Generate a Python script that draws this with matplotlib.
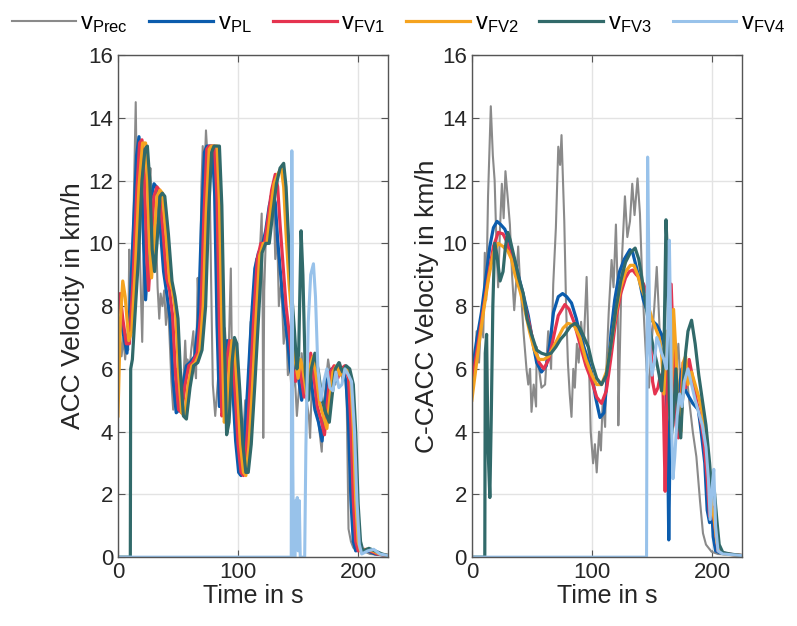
import matplotlib
matplotlib.use("Agg")
import matplotlib.pyplot as plt

plt.rcParams['font.family'] = ['Liberation Sans', 'DejaVu Sans']

# ---- ACC run: (time in s, velocity in km/h) ----
acc_prec = [(0, 6.9), (1.5, 7.3), (3, 6.4), (4.5, 7.0), (6, 6.3), (7.5, 7.1), (8.5, 6.6), (9.4, 9.8),
            (10.3, 7.5), (11.5, 9.0), (13, 11.0), (14.8, 14.5), (16, 11.0), (17, 12.5), (18.5, 9.3),
            (20.2, 6.86), (21.5, 9.5), (23, 10.4), (24.5, 9.4), (26, 11.8), (27, 12.4), (28.5, 10.8),
            (30, 9.8), (31.5, 10.6), (33, 8.6), (34.4, 7.6), (35.5, 8.4), (37, 8.0), (38.5, 8.5),
            (40, 7.4), (41.5, 8.2), (43, 7.0), (44.5, 5.6), (46, 4.7), (47, 5.6), (48, 4.9), (49, 6.0),
            (50.5, 5.2), (52, 5.6), (53.5, 5.0), (55, 6.0), (56, 6.9), (57, 6.0), (58, 6.3), (59.5, 5.9),
            (61, 6.6), (62.8, 7.2), (64, 6.0), (65, 5.7), (66.4, 8.9), (67.5, 7.6), (68.5, 9.0),
            (69.5, 11.8), (70.6, 13.1), (72, 12.2), (73.3, 13.6), (74.5, 12.8), (76, 13.0), (77.5, 9.0),
            (79, 5.5), (81, 4.5), (83, 5.5), (85, 6.5), (87, 6.0), (89, 7.3), (91, 6.2), (92.5, 7.0),
            (94, 9.2), (95, 6.0), (96.5, 5.0), (98, 3.8), (99, 4.3), (100, 3.0), (101.5, 3.3), (103, 2.9),
            (104.5, 4.0), (106, 5.0), (107.5, 4.5), (109, 6.0), (110.5, 7.5), (112, 7.0), (113.5, 8.6),
            (115, 9.5), (116.5, 9.2), (118, 9.6), (119.7, 10.95), (120.5, 8.0), (121, 3.8), (121.8, 8.5),
            (123, 10.0), (125, 10.6), (126.7, 11.5), (128, 10.8), (129.5, 11.7), (131, 9.5), (132.5, 10.5),
            (134, 8.0), (136, 8.8), (138, 6.8), (140, 7.5), (141.5, 5.8), (143, 6.3), (145, 5.0), (147, 6.0),
            (149, 4.5), (151, 5.5), (153, 6.5), (155, 5.5), (157, 5.0), (159, 4.5), (160, 3.8), (161.5, 5.5),
            (163, 6.0), (165, 5.0), (167, 4.3), (169.7, 3.36), (171, 4.5), (173, 5.5), (175, 6.3), (177, 5.8),
            (179, 6.0), (181, 5.5), (183, 6.1), (185, 6.2), (187, 5.6), (189, 5.9), (190.5, 5.0), (192, 0.9),
            (194, 0.5), (196, 0.3), (199, 0.2), (204, 0.2), (210, 0.1), (225, 0.05)]

acc_pl = [(0, 7.2), (2, 7.6), (5, 7.0), (7.5, 6.5), (10, 8.0), (13, 10.6), (15.5, 12.8), (17.5, 13.4),
          (19.5, 12.6), (21.5, 9.8), (23, 8.2), (25, 9.4), (27.5, 11.4), (30, 11.9), (32, 11.8), (35, 10.6),
          (38, 9.1), (41, 8.3), (43.5, 7.6), (46, 5.6), (48.5, 4.6), (51, 4.7), (54, 5.5), (57, 6.1),
          (60, 6.2), (64, 6.4), (67, 7.6), (69.5, 10.6), (72, 12.9), (74, 13.1), (78.5, 13.1), (80.5, 11.6),
          (82.5, 7.4), (84.5, 4.8), (86.5, 5.0), (89, 6.4), (91, 6.9), (93, 6.8), (95.5, 5.4), (98, 3.7),
          (100.5, 2.7), (102.5, 2.6), (105, 3.5), (108, 5.4), (111, 7.5), (114, 9.2), (117, 9.7), (120, 9.9),
          (123, 10.4), (126, 11.2), (129, 11.6), (131, 11.3), (133, 10.1), (135.5, 9.0), (138, 7.9),
          (141, 7.0), (143.5, 6.0), (146, 5.6), (148, 6.3), (150, 5.8), (153, 5.0), (156, 5.9), (158.5, 6.4),
          (161, 5.6), (164, 4.7), (167, 4.3), (170, 3.7), (172.5, 4.9), (175, 5.8), (178, 6.0), (181, 5.6),
          (184, 6.0), (187, 6.0), (190, 5.6), (192, 4.2), (194, 1.8), (196, 0.5), (198, 0.2), (203, 0.25),
          (208, 0.2), (214, 0.1), (225, 0.05)]

acc_fv1 = [(0, 7.8), (1.8, 8.4), (4, 7.6), (7, 6.8), (9.5, 6.8), (12.5, 8.8), (15.5, 11.5), (18, 13.2),
           (20, 13.3), (22, 12.2), (24, 9.5), (25.5, 8.5), (27.5, 9.8), (30, 11.5), (32.5, 11.8), (34.5, 11.7),
           (37.5, 10.4), (40.5, 8.9), (43, 8.5), (45.5, 7.7), (48, 5.8), (50.5, 4.7), (53, 4.6), (56, 5.5),
           (59, 6.1), (62, 6.2), (66, 6.5), (69, 7.8), (71.5, 10.8), (74, 13.0), (76, 13.1), (80.5, 13.1),
           (82.5, 11.4), (84.5, 7.4), (86.5, 4.5), (88.5, 4.8), (91, 6.4), (93, 6.9), (95, 6.8), (97.5, 5.3),
           (100, 3.6), (102.5, 2.7), (104.5, 2.6), (107, 3.5), (110, 5.4), (113, 7.6), (116, 9.5), (119, 10.0),
           (122, 10.0), (125, 10.8), (128, 11.7), (131, 12.2), (133, 11.8), (135, 10.6), (137.5, 9.3),
           (140, 8.0), (143, 7.0), (145.5, 6.0), (148, 5.6), (150, 6.3), (152, 5.9), (155, 5.1), (158, 6.1),
           (160.5, 6.5), (163, 5.8), (166, 4.8), (169, 4.4), (172, 3.9), (174.5, 5.0), (177, 5.9), (180, 6.1),
           (183, 5.7), (186, 6.0), (189, 6.1), (192, 5.7), (194, 4.2), (196, 1.8), (198, 0.5), (200, 0.2),
           (205, 0.25), (210, 0.2), (216, 0.1), (225, 0.05)]

acc_fv2 = [(0, 4.5), (2, 7.5), (4, 8.8), (6, 8.3), (9, 6.9), (11.5, 7.2), (14.5, 9.2), (17.5, 11.8),
           (20.5, 13.2), (23, 13.2), (24.5, 12.0), (26.5, 9.7), (28, 8.9), (30, 10.0), (32.5, 11.5), (35, 11.7),
           (37, 11.6), (40, 10.3), (43, 8.8), (45.5, 8.5), (48, 7.8), (50.5, 5.9), (53, 4.6), (55.5, 4.5),
           (58.5, 5.5), (61.5, 6.1), (64.5, 6.2), (68, 6.5), (71, 8.0), (73.5, 11.0), (76, 13.0), (78, 13.1),
           (82.5, 13.1), (84.5, 11.3), (86.5, 7.4), (88.5, 4.3), (90.5, 4.5), (93, 6.2), (95, 6.9), (97, 6.8),
           (99.5, 5.3), (102, 3.6), (104.5, 2.7), (106.5, 2.6), (109, 3.5), (112, 5.4), (115, 7.6), (118, 9.6),
           (121, 10.0), (124, 10.0), (127, 11.0), (130, 11.9), (133, 12.2), (136, 12.4), (138, 11.8),
           (140, 10.3), (142.5, 8.7), (145, 7.6), (147.5, 6.3), (150, 5.7), (152, 6.3), (154, 6.0), (157, 5.2),
           (160, 6.1), (162.5, 6.4), (165, 5.8), (168, 4.9), (171, 4.5), (174, 4.1), (176.5, 5.1), (179, 5.9),
           (182, 6.1), (185, 5.8), (188, 6.0), (191, 6.0), (194, 5.6), (196, 4.1), (198, 1.8), (200, 0.5),
           (202, 0.2), (207, 0.25), (212, 0.2), (218, 0.1), (225, 0.05)]

acc_fv3 = [(0, 0), (10.3, 0), (10.6, 6.0), (12, 6.3), (14, 7.6), (17, 9.5), (20, 12.0), (22.5, 13.0),
           (24.5, 13.1), (26.5, 12.0), (28.5, 9.8), (30.5, 9.1), (32.5, 10.0), (35, 11.5), (37, 11.6),
           (39, 11.5), (42, 10.3), (45, 8.8), (47.5, 8.3), (50, 7.6), (52, 5.9), (54.5, 4.5), (57, 4.4),
           (60, 5.4), (63, 6.1), (66.5, 6.2), (70, 6.6), (73, 8.0), (75.5, 11.0), (78, 12.9), (80, 13.1),
           (84.5, 13.1), (86.5, 11.2), (88.5, 7.2), (90.5, 3.9), (92.5, 4.3), (95, 6.2), (97, 7.0), (99, 6.8),
           (101.5, 5.3), (104, 3.6), (106.5, 2.7), (108.5, 2.7), (111, 3.6), (114, 5.5), (117, 7.6), (120, 9.7),
           (123, 10.0), (126, 10.0), (129, 11.0), (132, 11.9), (135, 12.4), (138, 12.55), (140, 11.8),
           (142, 10.2), (144.5, 8.5), (147, 7.2), (149, 6.0), (150.5, 6.5), (152.5, 10.4), (154, 9.0),
           (156, 5.9), (158.5, 5.0), (161, 6.0), (164, 6.5), (167, 5.9), (170, 5.0), (173, 4.6), (176, 4.3),
           (178.5, 5.2), (181, 6.0), (184, 6.2), (187, 5.9), (190, 6.1), (193, 6.0), (196, 5.5), (198, 4.0),
           (200, 1.7), (202, 0.5), (204, 0.2), (209, 0.28), (214, 0.2), (220, 0.1), (225, 0.05)]

acc_fv4 = [(0, 0), (144.3, 0), (144.8, 12.95), (145.6, 3.0), (146.2, 0), (147.5, 0), (148, 1.8),
           (148.6, 0.3), (149.3, 1.9), (150, 0.2), (151, 1.8), (151.8, 0), (155.5, 0), (156.5, 3.5),
           (158.5, 7.5), (160.5, 9.0), (162.8, 9.35), (164.5, 8.3), (166.5, 6.0), (169, 5.0), (171.5, 5.6),
           (174, 6.0), (176.5, 5.4), (179, 5.3), (181.5, 5.9), (184, 5.4), (186.5, 5.5), (189, 6.0),
           (192, 5.8), (194.5, 5.6), (197, 4.0), (199, 1.8), (201, 0.4), (203, 0.1), (208, 0.2), (213, 0.25),
           (218, 0.1), (225, 0.05)]

# ---- C-CACC run ----
cacc_prec = [(0, 6.8), (2, 5.8), (4, 7.2), (6, 6.2), (8, 7.8), (9.5, 7.0), (10.8, 9.7), (12, 8.2),
             (13.5, 11.5), (15.8, 14.37), (17.5, 12.8), (19, 12.0), (20.5, 10.0), (21.9, 8.6), (23.5, 10.5),
             (25, 11.9), (26.5, 10.8), (28, 12.3), (30, 11.4), (31.7, 10.6), (33.5, 9.0), (35.3, 7.87),
             (37, 8.8), (38.6, 9.9), (40, 8.9), (41, 8.4), (43, 7.2), (45.6, 5.96), (47, 5.5), (48.5, 6.0),
             (49.7, 4.63), (51.5, 5.5), (53.5, 4.8), (54, 6.7), (56, 6.0), (58, 5.4), (61, 5.5), (63.6, 7.2),
             (66, 6.0), (67.8, 8.7), (70, 10.5), (72, 13.08), (73.5, 12.5), (74.7, 13.45), (77, 10.7),
             (78.5, 8.0), (80, 6.2), (81.5, 5.2), (83, 4.47), (84.5, 6.0), (85.8, 5.4), (87.5, 6.8), (89, 6.2),
             (91, 7.5), (93, 6.6), (95.6, 8.93), (97.7, 5.96), (99, 4.0), (101, 2.99), (102.5, 3.6), (104, 2.7),
             (106, 4.0), (107.5, 3.4), (109, 5.0), (111, 4.15), (112, 5.96), (114, 7.8), (116.4, 9.47),
             (118, 8.6), (120, 10.6), (121.5, 8.5), (122, 4.2), (123, 6.07), (125, 9.5), (127.5, 11.5),
             (129.5, 10.2), (131.7, 10.7), (133.6, 11.9), (135.5, 10.9), (138, 12.07), (140, 10.95),
             (141.4, 9.36), (143.5, 7.5), (145.6, 5.96), (147.5, 5.4), (149.7, 6.8), (152, 8.0), (154, 9.25),
             (156.7, 7.0), (158.5, 6.5), (160, 6.0), (163, 4.5), (166, 7.0), (169, 5.5), (172, 6.8), (175, 4.5),
             (178, 6.2), (181, 5.0), (184, 4.0), (187, 3.2), (190, 1.8), (192.5, 0.76), (195, 0.4),
             (199.7, 0.17), (205, 0.1), (225, 0.05)]

cacc_pl = [(0, 5.9), (1, 6.1), (4, 6.9), (8, 7.8), (12, 9.0), (15, 9.9), (18, 10.5), (21, 10.7), (24, 10.6),
           (27.5, 10.45), (30, 10.2), (33, 9.8), (36, 9.4), (38.6, 9.0), (42, 8.5), (47, 7.7), (51, 6.8),
           (54, 6.2), (58, 5.9), (62, 6.1), (65, 6.8), (68, 7.8), (72, 8.3), (75.6, 8.4), (79, 8.3), (83, 8.1),
           (87, 7.6), (90, 7.1), (95, 6.5), (99.7, 5.9), (103, 5.1), (106.7, 4.45), (110, 4.6), (113.6, 6.0),
           (116, 7.2), (119, 8.2), (123, 9.1), (127, 9.5), (131.7, 9.8), (134, 9.7), (138.6, 9.0), (142.8, 8.2),
           (148.3, 7.6), (154, 7.4), (158, 7.1), (161, 6.6), (163, 4.0), (164, 0.55), (165, 3.5), (166.5, 6.4),
           (169, 5.5), (172, 5.2), (175, 6.0), (178, 5.3), (181, 5.1), (184, 4.9), (188.6, 4.7), (191, 4.0),
           (194, 3.0), (196, 1.5), (198, 1.1), (199.5, 1.8), (201, 0.65), (203, 0.2), (206, 0.15), (212, 0.1),
           (225, 0.05)]

cacc_fv1 = [(0, 5.4), (2, 6.0), (6, 7.0), (10, 8.0), (14, 9.0), (18, 9.9), (22, 10.35), (26, 10.3),
            (28.5, 10.1), (31, 9.8), (35, 9.3), (39, 8.8), (43, 8.2), (48, 7.4), (52, 6.7), (56, 6.2), (60, 6.0),
            (64, 6.3), (68, 7.0), (72, 7.7), (77.5, 8.05), (81, 7.9), (85, 7.5), (90, 6.8), (95, 6.1), (100, 5.6),
            (104, 5.1), (108, 4.9), (112, 5.3), (116, 6.4), (120, 7.6), (124, 8.4), (128, 8.9), (131, 9.1),
            (134, 9.15), (137, 9.0), (140, 8.9), (143, 8.7), (146, 8.4), (148.5, 7.2), (150.5, 5.6),
            (152.5, 5.2), (155, 5.4), (157, 5.8), (159, 5.7), (160, 4.0), (161, 2.1), (162.5, 5.0), (164, 7.5),
            (166, 8.7), (168, 6.5), (170, 4.2), (172, 3.8), (174, 5.0), (176, 6.2), (178, 5.4), (181, 6.3),
            (184, 5.7), (187, 5.0), (190, 4.5), (193, 3.8), (196, 2.5), (198, 1.3), (200.5, 1.6), (203, 0.8),
            (205, 0.2), (208, 0.15), (213, 0.1), (225, 0.05)]

cacc_fv2 = [(0, 5.0), (2, 5.6), (6, 6.8), (10, 7.9), (14, 8.9), (18, 9.7), (22, 10.0), (26, 9.9), (30, 9.75),
            (33, 9.5), (36, 9.0), (40, 8.5), (44, 7.9), (48, 7.2), (52, 6.6), (56, 6.3), (60, 6.3), (64, 6.4),
            (68, 6.7), (72, 7.0), (76, 7.3), (80, 7.45), (85, 7.4), (90, 7.0), (95, 6.3), (100, 5.8), (104, 5.5),
            (108, 5.5), (112, 5.9), (116, 6.8), (120, 7.8), (124, 8.6), (128, 9.1), (132, 9.3), (135, 9.3),
            (138, 9.0), (141, 8.6), (144, 8.3), (147, 8.0), (150, 7.6), (153, 7.3), (156, 7.0), (158, 6.5),
            (160, 5.2), (162, 7.2), (164, 6.4), (166, 5.0), (168, 7.9), (170, 6.5), (172, 4.5), (174, 4.0),
            (176, 6.2), (178, 6.4), (180, 5.5), (183, 5.9), (186, 5.5), (189, 5.1), (192, 4.6), (195, 3.8),
            (198, 2.5), (200, 1.6), (202, 1.2), (204, 0.5), (206, 0.2), (210, 0.1), (225, 0.05)]

cacc_fv3 = [(0, 0), (10.8, 0), (11.2, 6.5), (12.3, 7.1), (13.5, 3.5), (15, 1.9), (16.2, 4.5), (17.5, 8.0),
            (19, 10.0), (21, 9.6), (23.5, 8.8), (26, 9.1), (28, 9.9), (30, 10.35), (32, 10.1), (35.8, 9.47),
            (39, 8.9), (42.8, 8.4), (46, 7.6), (49.7, 7.1), (54, 6.6), (58, 6.5), (62, 6.45), (66, 6.5),
            (70, 6.7), (74, 6.95), (77.5, 7.1), (82, 7.35), (86, 7.45), (90, 7.3), (93.5, 7.0), (97, 6.7),
            (100, 6.2), (104, 5.7), (108, 5.5), (112, 5.8), (116, 6.8), (120, 7.9), (124, 8.8), (128, 9.4),
            (132, 9.7), (136, 9.85), (139, 9.5), (142, 8.8), (145, 8.0), (148, 7.3), (151, 6.7), (154, 6.2),
            (156, 5.8), (158, 5.3), (160, 6.5), (161.7, 10.75), (163, 9.5), (164.5, 5.0), (166, 3.8),
            (168, 4.5), (170, 6.0), (172, 4.5), (174, 3.8), (176, 5.5), (178, 6.5), (180, 7.2), (183, 7.55),
            (186, 6.8), (189, 5.8), (192, 5.0), (195, 4.2), (198, 3.0), (200, 2.0), (202, 2.1), (204, 1.2),
            (206, 0.4), (209, 0.15), (215, 0.1), (225, 0.05)]

cacc_fv4 = [(0, 0), (145.5, 0), (146.4, 12.75), (147.5, 9.0), (148.5, 6.5), (150, 5.8), (152, 6.2),
            (154, 7.0), (156, 6.8), (158, 6.5), (160, 6.3), (162, 6.0), (163.5, 7.5), (164.5, 10.1),
            (165.5, 7.5), (166.5, 4.0), (167.5, 2.5), (169, 3.2), (171, 4.5), (173, 5.2), (175, 4.8),
            (177, 5.6), (180, 6.0), (183, 5.5), (186, 5.0), (189, 4.6), (192, 4.2), (195, 3.5), (197, 2.5),
            (198.5, 1.2), (200, 2.2), (201.5, 2.8), (203, 1.0), (205, 0.2), (209, 0.1), (225, 0.05)]

labels = [r'$\mathregular{v_{Prec}}$', r'$\mathregular{v_{PL}}$', r'$\mathregular{v_{FV1}}$',
          r'$\mathregular{v_{FV2}}$', r'$\mathregular{v_{FV3}}$', r'$\mathregular{v_{FV4}}$']
colors = ['#8a8a8a', '#0b5cad', '#e5334f', '#f5a31f', '#316a6a', '#98c2ea']
widths = [1.5, 2.3, 2.3, 2.3, 2.3, 2.2]

fig = plt.figure(figsize=(7.97, 6.26), dpi=100)
ax1 = fig.add_axes([0.148, 0.110, 0.339, 0.802])
ax2 = fig.add_axes([0.592, 0.110, 0.339, 0.802])

panels = [
    (ax1, [acc_prec, acc_pl, acc_fv1, acc_fv2, acc_fv3, acc_fv4], 'ACC Velocity in km/h'),
    (ax2, [cacc_prec, cacc_pl, cacc_fv1, cacc_fv2, cacc_fv3, cacc_fv4], 'C-CACC Velocity in km/h'),
]

handles = []
for ax, series, ylab in panels:
    handles = []
    for data, lab, c, lw in zip(series, labels, colors, widths):
        t, v = zip(*data)
        h, = ax.plot(t, v, color=c, lw=lw, label=lab, solid_joinstyle='round')
        handles.append(h)
    ax.set_xlim(0, 225)
    ax.set_ylim(0, 16)
    ax.set_xticks([0, 100, 200])
    ax.set_yticks(range(0, 17, 2))
    ax.grid(True, color='#e3e3e3', lw=1.0)
    ax.set_axisbelow(True)
    ax.tick_params(direction='in', top=True, right=True, length=5, width=0.8,
                   labelsize=16, colors='#555555', labelcolor='#262626')
    for s in ax.spines.values():
        s.set_color('#555555')
        s.set_linewidth(1.0)
    ax.set_xlabel('Time in s', fontsize=18, color='#262626', labelpad=1)
    ax.set_ylabel(ylab, fontsize=19, color='#262626', labelpad=2)

fig.legend(handles, labels, loc='upper center', bbox_to_anchor=(0.5, 1.003), ncol=6, frameon=False,
           fontsize=17, handlelength=2.7, handletextpad=0.2, columnspacing=0.9, borderaxespad=0.2)

fig.savefig('out.png', dpi=100)
